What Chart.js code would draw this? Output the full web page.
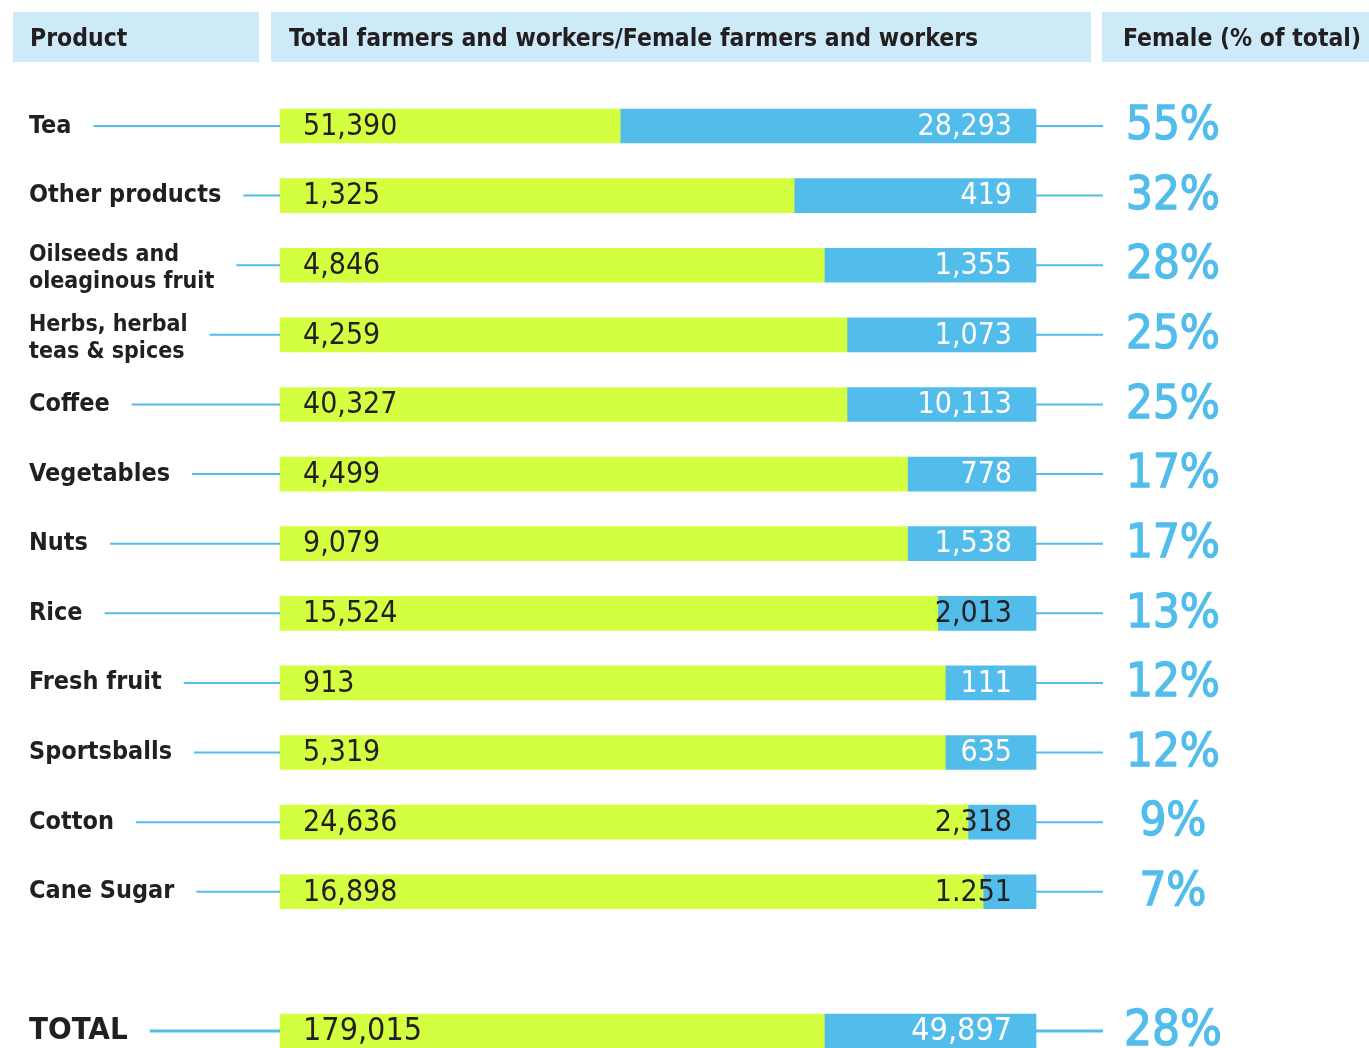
<!DOCTYPE html>
<html>
<head>
<meta charset="utf-8">
<script src="https://cdn.jsdelivr.net/npm/chart.js@4.4.1/dist/chart.umd.min.js"></script>
<style>
  html, body { margin: 0; padding: 0; background: #ffffff; }
  #wrap { position: relative; width: 1369px; height: 1048px; }
  canvas { display: block; }
</style>
</head>
<body>
<div id="wrap"><canvas id="c" width="1369" height="1048"></canvas></div>
<script>
// ---- DATA ----
const products = [
  "Tea", "Other products", ["Oilseeds and", "oleaginous fruit"], ["Herbs, herbal", "teas & spices"],
  "Coffee", "Vegetables", "Nuts", "Rice", "Fresh fruit", "Sportsballs", "Cotton", "Cane Sugar", "", "TOTAL"
];
const totalWorkers = [51390, 1325, 4846, 4259, 40327, 4499, 9079, 15524, 913, 5319, 24636, 16898, null, 179015];
const femaleWorkers = [28293, 419, 1355, 1073, 10113, 778, 1538, 2013, 111, 635, 2318, 1251, null, 49897];
const totalLabels = ["51,390", "1,325", "4,846", "4,259", "40,327", "4,499", "9,079", "15,524", "913", "5,319", "24,636", "16,898", "", "179,015"];
const femaleLabels = ["28,293", "419", "1,355", "1,073", "10,113", "778", "1,538", "2,013", "111", "635", "2,318", "1.251", "", "49,897"];
const femalePct = [55, 32, 28, 25, 25, 17, 17, 13, 12, 12, 9, 7, null, 28];
const headers = ["Product", "Total farmers and workers/Female farmers and workers", "Female (% of total)"];

// derived stacking values (male share + female share = 100)
const maleShare = femalePct.map(p => p === null ? null : 100 - p);

const GREEN = "#d4ff41";
const BLUE = "#52bdeb";
const DARK = "#231f20";
const HEAD_BG = "#cdeaf9";
const COND = "'Liberation Sans Narrow', 'DejaVu Sans Condensed', 'Roboto Condensed', sans-serif";

const overlay = {
  id: "overlay",
  afterDraw(chart) {
    const ctx = chart.ctx;
    const y = chart.scales.y;
    const x = chart.scales.x;
    const left = x.left, right = x.right;
    ctx.save();
    // headers
    const boxes = [[13, 246], [271, 820], [1102, 267]];
    ctx.fillStyle = HEAD_BG;
    boxes.forEach(b => ctx.fillRect(b[0], 12, b[1], 50));
    ctx.fillStyle = DARK;
    ctx.textBaseline = "middle";
    ctx.textAlign = "left";
    ctx.font = "bold 24.5px " + COND;
    ctx.fillText(headers[0], 30, 40);
    ctx.fillText(headers[1], 289, 40);
    ctx.fillText(headers[2], 1123, 40);

    products.forEach((p, i) => {
      if (femalePct[i] === null) return;
      const cy = y.getPixelForValue(i);
      const isTotal = i === products.length - 1;
      // product label
      ctx.fillStyle = DARK;
      ctx.textAlign = "left";
      ctx.textBaseline = "middle";
      let endX;
      if (Array.isArray(p)) {
        ctx.font = "bold 23px " + COND;
        ctx.fillText(p[0], 29, cy - 10);
        ctx.fillText(p[1], 29, cy + 17);
        endX = 29 + Math.max(ctx.measureText(p[0]).width, ctx.measureText(p[1]).width);
      } else {
        ctx.font = (isTotal ? "bold 31px " : "bold 25px ") + COND;
        ctx.fillText(p, 29, cy);
        endX = 29 + ctx.measureText(p).width;
      }
      // connector lines
      ctx.strokeStyle = BLUE;
      ctx.lineWidth = isTotal ? 3 : 2;
      ctx.beginPath();
      ctx.moveTo(endX + 22, cy);
      ctx.lineTo(left, cy);
      ctx.moveTo(right, cy);
      ctx.lineTo(1103, cy);
      ctx.stroke();
      // values in bars
      ctx.font = (isTotal ? "32px " : "30px ") + COND;
      ctx.fillStyle = DARK;
      ctx.textAlign = "left";
      ctx.fillText(totalLabels[i], left + 23, cy + 1);
      ctx.textAlign = "right";
      const blueStart = x.getPixelForValue(maleShare[i]);
      const fw = ctx.measureText(femaleLabels[i]).width;
      ctx.fillStyle = (right - 24 - fw < blueStart) ? DARK : "#ffffff";
      ctx.fillText(femaleLabels[i], right - 24, cy + 1);
      // percentages
      ctx.fillStyle = BLUE;
      ctx.strokeStyle = BLUE;
      ctx.lineWidth = 1.3;
      ctx.textAlign = "center";
      ctx.font = (isTotal ? "49px " : "47px ") + "'DejaVu Sans Condensed', " + COND;
      ctx.fillText(femalePct[i] + "%", 1173, cy + 1);
      ctx.strokeText(femalePct[i] + "%", 1173, cy + 1);
    });
    ctx.restore();
  }
};

new Chart(document.getElementById("c"), {
  type: "bar",
  data: {
    labels: products,
    datasets: [
      { label: "Male share", data: maleShare, backgroundColor: GREEN, barThickness: 34, borderWidth: 0, clip: false },
      { label: "Female share", data: femalePct, backgroundColor: BLUE, barThickness: 34, borderWidth: 0, clip: false }
    ]
  },
  options: {
    indexAxis: "y",
    responsive: false,
    animation: false,
    layout: { padding: { left: 280, right: 333, top: 126, bottom: 17 } },
    plugins: { legend: { display: false }, tooltip: { enabled: false } },
    scales: {
      x: { stacked: true, min: 0, max: 100, display: false },
      y: { stacked: true, display: false, offset: false }
    }
  },
  plugins: [overlay]
});
</script>
</body>
</html>
